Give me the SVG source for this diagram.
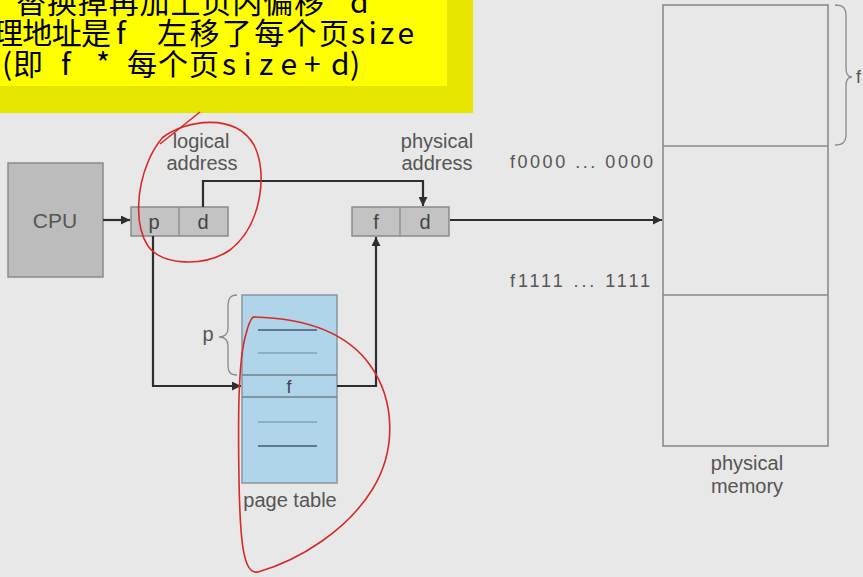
<svg xmlns="http://www.w3.org/2000/svg" width="863" height="577" viewBox="0 0 863 577">
<defs>
<marker id="arr" viewBox="0 0 10 10" refX="10" refY="5" markerWidth="10" markerHeight="9" markerUnits="userSpaceOnUse" orient="auto">
<path d="M0,0 L10,5 L0,10 Z" fill="#2e2e2e"/>
</marker>
<style>
.note{font-family:"Noto Sans CJK SC","Noto Sans",sans-serif;font-size:30px;fill:#000}
.lbl{font-family:"Liberation Sans",Arial,sans-serif;font-size:20px;fill:#555}
.cell{font-family:"Liberation Sans",Arial,sans-serif;font-size:20px;fill:#444;text-anchor:middle}
.box{fill:#c3c3c3;stroke:#8a8a8a;stroke-width:1.5}
.conn{fill:none;stroke:#2e2e2e;stroke-width:2.2}
.brace{fill:none;stroke:#8a8a8a;stroke-width:1.3}
.red{fill:none;stroke:#d62a2a;stroke-width:1.6}
</style>
</defs>
<rect width="863" height="577" fill="#e8e8e8"/>

<g id="note">
<rect x="0" y="0" width="473" height="113" fill="#e5e500"/>
<rect x="0" y="0" width="447" height="86" fill="#ffff00"/>
<text class="note" x="16" y="13" textLength="308" lengthAdjust="spacing">替换掉再加上页内偏移</text>
<text class="note" x="350" y="13">d</text>
<text class="note" x="-7" y="44" textLength="118" lengthAdjust="spacing">理地址是</text>
<text class="note" x="116" y="44">f</text>
<text class="note" x="157" y="44" textLength="192" lengthAdjust="spacing">左移了每个页</text>
<text class="note" x="351" y="44" textLength="63" lengthAdjust="spacing">size</text>
<text class="note" x="2" y="75">(</text>
<text class="note" x="13" y="75">即</text>
<text class="note" x="61" y="75">f</text>
<text class="note" x="96" y="75">*</text>
<text class="note" x="127" y="75" textLength="92" lengthAdjust="spacing">每个页</text>
<text class="note" x="222" y="75" textLength="75" lengthAdjust="spacing">size</text>
<text class="note" x="304" y="75">+</text>
<text class="note" x="331" y="75">d</text>
<text class="note" x="350" y="75">)</text>
</g>

<g id="cpu">
<rect x="8" y="163" width="95" height="114" fill="#bcbcbc" stroke="#8a8a8a" stroke-width="1.5"/>
<text class="lbl" x="55" y="228" text-anchor="middle" style="font-size:21px">CPU</text>
</g>

<g id="logical-address">
<text class="lbl" x="201" y="148" text-anchor="middle">logical</text>
<text class="lbl" x="202" y="170" text-anchor="middle">address</text>
<rect class="box" x="131" y="207" width="97" height="29"/>
<line x1="179" y1="207" x2="179" y2="236" stroke="#8a8a8a" stroke-width="1.3"/>
<text class="cell" x="154" y="229">p</text>
<text class="cell" x="203" y="229">d</text>
</g>

<g id="physical-address">
<text class="lbl" x="437" y="148" text-anchor="middle">physical</text>
<text class="lbl" x="437" y="170" text-anchor="middle">address</text>
<rect class="box" x="352" y="207" width="97" height="29"/>
<line x1="400" y1="207" x2="400" y2="236" stroke="#8a8a8a" stroke-width="1.3"/>
<text class="cell" x="376" y="229">f</text>
<text class="cell" x="425" y="229">d</text>
</g>

<g id="page-table">
<rect x="242" y="295" width="95" height="188" fill="#b0d5ea" stroke="#8797a0" stroke-width="1.5"/>
<line x1="242" y1="375" x2="337" y2="375" stroke="#6f7f88" stroke-width="1.3"/>
<line x1="242" y1="397" x2="337" y2="397" stroke="#6f7f88" stroke-width="1.3"/>
<line x1="258" y1="330" x2="317" y2="330" stroke="#3f5c6c" stroke-width="1.6"/>
<line x1="258" y1="353" x2="317" y2="353" stroke="#7ea5b6" stroke-width="1.4"/>
<line x1="258" y1="422" x2="317" y2="422" stroke="#7ea5b6" stroke-width="1.4"/>
<line x1="258" y1="446" x2="317" y2="446" stroke="#3f5c6c" stroke-width="1.6"/>
<text class="cell" x="289" y="393" style="font-size:18px">f</text>
<path class="brace" d="M237,295 C229,295 228,300 228,308 V328 C228,334 225,337 219,337 C225,337 228,340 228,346 V364 C228,372 230,375 237,375"/>
<text class="lbl" x="208" y="341" text-anchor="middle">p</text>
<text class="lbl" x="290" y="507" text-anchor="middle">page table</text>
</g>

<g id="physical-memory">
<rect x="663" y="5" width="165" height="441" fill="#e8e8e8" stroke="#8a8a8a" stroke-width="1.6"/>
<line x1="663" y1="146" x2="828" y2="146" stroke="#8a8a8a" stroke-width="1.6"/>
<line x1="663" y1="295" x2="828" y2="295" stroke="#8a8a8a" stroke-width="1.6"/>
<path class="brace" d="M835,5 C843,5 846,8 846,16 V68 C846,74 848,77 852,77 C848,77 846,80 846,86 V134 C846,142 843,145 835,145"/>
<text class="lbl" x="856" y="83" style="font-size:18px">f</text>
<text class="lbl" x="653" y="168" text-anchor="end" textLength="143" lengthAdjust="spacing" style="font-size:18px">f0000 ... 0000</text>
<text class="lbl" x="650" y="287" text-anchor="end" textLength="140" lengthAdjust="spacing" style="font-size:18px">f1111 ... 1111</text>
<text class="lbl" x="747" y="470" text-anchor="middle">physical</text>
<text class="lbl" x="747" y="493" text-anchor="middle">memory</text>
</g>

<g id="connectors">
<path class="conn" d="M103,220 H130" marker-end="url(#arr)"/>
<path class="conn" d="M203,207 V181 H423 V206" marker-end="url(#arr)"/>
<path class="conn" d="M153,236 V386 H241" marker-end="url(#arr)"/>
<path class="conn" d="M337,386 H376 V237" marker-end="url(#arr)"/>
<path class="conn" d="M450,220 H662" marker-end="url(#arr)"/>
</g>

<g id="annotations">
<path class="red" d="M160,144 L200,112"/>
<path class="red" d="M162,138 C185,120 235,112 254,145 C268,172 262,225 230,250 C205,267 162,266 148,246 C134,225 137,188 148,162 C152,152 157,144 163,137"/>
<path class="red" d="M253,317 C300,318 345,330 370,365 C395,400 397,450 372,490 C347,530 300,560 258,572 C243,575 240,540 239,480 C238,420 238,360 246,334 C248,326 250,320 253,317 Z"/>
</g>
</svg>
